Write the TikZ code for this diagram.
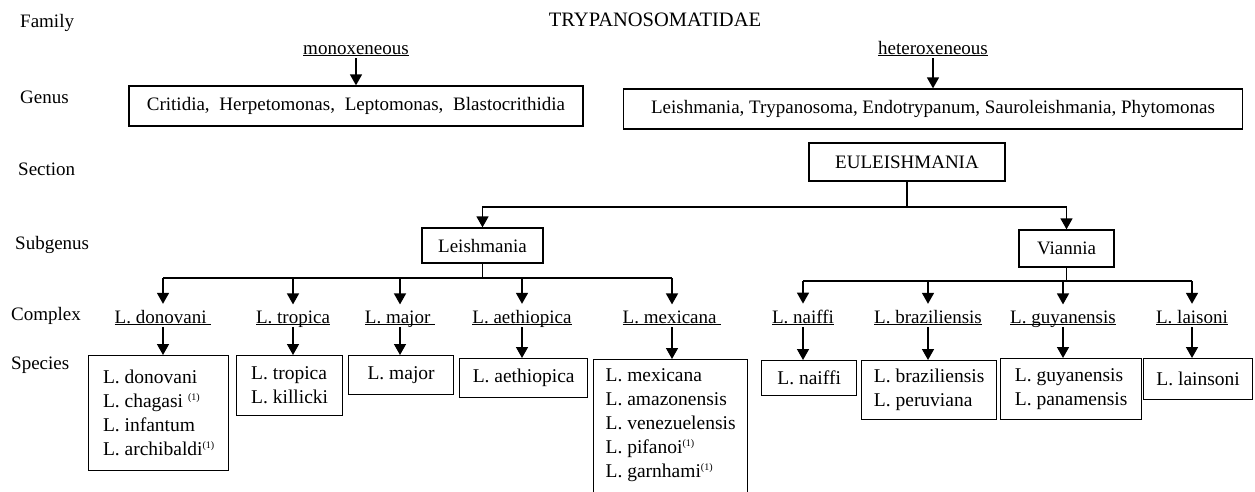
\documentclass[tikz,border=0pt]{standalone}
\usepackage{fontspec}
\setmainfont{Liberation Serif}
\usetikzlibrary{arrows.meta}
\newcommand{\ulab}[1]{\underline{\raisebox{0pt}[\height][0pt]{#1}}}
\newcommand{\fnote}{\raisebox{7pt}{\fontsize{10}{10}\selectfont(1)}}
\begin{document}
\begin{tikzpicture}[x=1pt,y=-1pt,
  every node/.style={font=\fontsize{19}{24}\selectfont},
  lab/.style={anchor=mid west, inner sep=0pt},
  bx/.style={draw, line width=1.3pt, inner sep=0pt, align=center},
  sp/.style={draw, line width=1.3pt, inner sep=0pt, align=left, anchor=north west,
             font=\fontsize{19.5}{24}\selectfont},
  cx/.style={inner sep=0pt, outer ysep=6pt, anchor=base},
  arr/.style={line width=1.5pt, -{Triangle[width=12pt,length=11pt]}},
  ln/.style={line width=1.5pt}]
\useasboundingbox (0,0) rectangle (1255,492);

% row labels
\node[lab] (lfam) at (20,25) {Family};
\node[lab] (lgen) at (20,101) {Genus};
\node[lab] (lsec) at (18,173) {Section};
\node[lab] (lsub) at (15,247) {Subgenus};
\node[lab] (lcom) at (11,318) {Complex};
\node[lab] (lspe) at (11,367) {Species};

% family
\node[anchor=mid, inner sep=0pt, font=\fontsize{20.5}{24}\selectfont] (fam) at (655,24) {TRYPANOSOMATIDAE};
\node[anchor=mid, inner sep=0pt, outer ysep=2pt] (mono) at (356,52) {\ulab{monoxeneous}};
\node[anchor=mid, inner sep=0pt, outer ysep=2pt] (hetero) at (933,52) {\ulab{heteroxeneous}};

% genus
\node[bx, minimum width=454pt, minimum height=40pt] (gl) at (356,106)
  {Critidia,\hspace{5pt} Herpetomonas,\hspace{5pt} Leptomonas,\hspace{5pt} Blastocrithidia};
\node[bx, minimum width=619pt, minimum height=40pt] (gr) at (933,109)
  {Leishmania, Trypanosoma, Endotrypanum, Sauroleishmania, Phytomonas};
\draw[arr] (mono.south) -- (mono.south |- gl.north);
\draw[arr] (hetero.south) -- (hetero.south |- gr.north);

% section
\node[bx, minimum width=196pt, minimum height=38pt] (eu) at (907,162) {EULEISHMANIA};

% subgenus
\node[bx, minimum width=121pt, minimum height=35pt] (sl) at (482.5,245.5) {Leishmania};
\node[bx, minimum width=95pt, minimum height=37pt] (sv) at (1066.5,248.5) {Viannia};
\coordinate (eh) at (906,207);
\draw[ln] (eu.south) -- (eu.south |- eh);
\draw[arr] (eu.south |- eh) -| (sl.north);
\draw[arr] (eu.south |- eh) -| (sv.north);

% complexes
\node[cx] (cdon) at (163,323) {\ulab{L. donovani\ }};
\node[cx] (ctro) at (293,323) {\ulab{L. tropica}};
\node[cx] (cmaj) at (400,323) {\ulab{L. major\ }};
\node[cx] (caet) at (522,323) {\ulab{L. aethiopica}};
\node[cx] (cmex) at (672,323) {\ulab{L. mexicana\ }};
\node[cx] (cnai) at (803,323) {\ulab{L. naiffi}};
\node[cx] (cbra) at (928,323) {\ulab{L. braziliensis}};
\node[cx] (cguy) at (1063,323) {\ulab{L. guyanensis}};
\node[cx] (clai) at (1192,323) {\ulab{L. laisoni}};

\coordinate (lh) at (482,278);
\coordinate (vh) at (1064,281);
\draw[ln] (sl.south) -- (sl.south |- lh);
\draw[ln] (sv.south) -- (sv.south |- vh);
\draw[ln] (cdon |- lh) -- (cmex |- lh);
\draw[ln] (cnai |- vh) -- (clai |- vh);
\foreach \c in {cdon,ctro,cmaj,caet,cmex} \draw[arr] (\c |- lh) -- (\c.north);
\foreach \c in {cnai,cbra,cguy,clai} \draw[arr] (\c |- vh) -- (\c.north);

% species
\node[sp, minimum width=140pt, minimum height=115pt] (sdon) at (88,355)
  {L. donovani\\L. chagasi \fnote\\L. infantum\\L. archibaldi\fnote};
\node[sp, minimum width=106pt, minimum height=60pt] (stro) at (236,355)
  {L. tropica\\L. killicki};
\node[sp, minimum width=105pt, minimum height=39pt, align=center] (smaj) at (348,355) {L. major};
\node[sp, minimum width=128pt, minimum height=39pt, align=center] (saet) at (459,358) {L. aethiopica};
\node[sp, minimum width=154pt, inner ysep=9pt] (smex) at (593,359)
  {\parbox[t][150pt][t]{130pt}{L. mexicana\\L. amazonensis\\L. venezuelensis\\L. pifanoi\fnote\\L. garnhami\fnote}};
\node[sp, minimum width=95pt, minimum height=35pt, align=center] (snai) at (761,360) {L. naiffi};
\node[sp, minimum width=135pt, minimum height=59pt] (sbra) at (861,360)
  {L. braziliensis\\L. peruviana};
\node[sp, minimum width=141pt, minimum height=61pt] (sguy) at (1000,358)
  {L. guyanensis\\L. panamensis};
\node[sp, minimum width=109pt, minimum height=41pt, align=center] (slai) at (1143,358) {L. lainsoni};

\foreach \c/\s in {cdon/sdon,ctro/stro,cmaj/smaj,caet/saet,cmex/smex,cnai/snai,cbra/sbra,cguy/sguy,clai/slai}
  \draw[arr, shorten <=-4pt] (\c.south) -- (\c.south |- \s.north);
\end{tikzpicture}
\end{document}
